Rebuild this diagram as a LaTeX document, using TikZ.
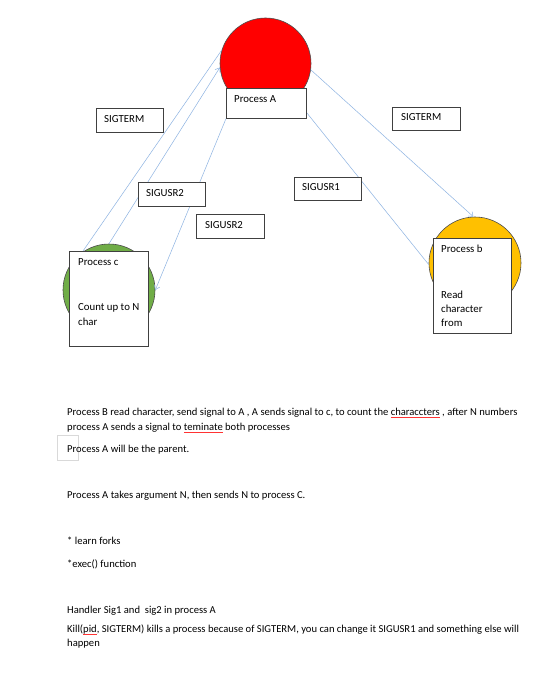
\documentclass[tikz,border=0pt]{standalone}
\usepackage{fontspec}
\setmainfont{Carlito}
\usetikzlibrary{arrows.meta}
\newsavebox\wavebox
\newcommand\redwave[1]{\sbox\wavebox{#1}\rlap{\textcolor{red!80}{\rule[-2.2pt]{\wd\wavebox}{0.4pt}}}#1}
\definecolor{lineblue}{HTML}{8DB3E2}
\definecolor{cgreen}{HTML}{70AD47}
\definecolor{cyellow}{HTML}{FFC000}
\pgfdeclarelayer{bg}
\pgfdeclarelayer{mid}
\pgfsetlayers{bg,mid,main}
\begin{document}
\begin{tikzpicture}[x=1pt,y=-1pt,
  conn/.style={draw=lineblue, line width=0.5pt},
  arr/.style={conn, -{Straight Barb[length=4pt,width=6pt]}},
  proc/.style={circle, draw=black!70, line width=0.6pt, inner sep=0pt},
  sbox/.style={rectangle, draw=black!75, fill=white, line width=0.6pt, inner sep=0pt, anchor=north west},
  lbl/.style={anchor=west, inner sep=0pt, font=\fontsize{10.8}{13}\selectfont},
  body/.style={anchor=base west, inner sep=0pt, font=\fontsize{10.6}{14}\selectfont}]
\useasboundingbox (0,0) rectangle (540,677);
\begin{pgfonlayer}{bg}
\fill[white] (0,0) rectangle (540,677);
\node[proc, fill=red, minimum size=91pt] (A) at (265.5,63.5) {};
\node[proc, fill=cgreen, minimum size=92pt] (C) at (109,290) {};
\node[proc, fill=cyellow, minimum size=92pt] (B) at (475,263) {};
\end{pgfonlayer}

% boxes
\node[sbox, minimum width=80pt, minimum height=30pt] (Abox) at (226,88) {};
\node[lbl] (Atxt) at ([shift={(8,11)}]Abox.north west) {Process A};

\node[sbox, minimum width=67pt, minimum height=24pt] (t1) at (96,108) {};
\node[lbl] (t1txt) at ([shift={(8,11.5)}]t1.north west) {SIGTERM};

\node[sbox, minimum width=67pt, minimum height=24pt] (u2a) at (138,182) {};
\node[lbl] (u2atxt) at ([shift={(8,11)}]u2a.north west) {SIGUSR2};

\node[sbox, minimum width=68pt, minimum height=24pt] (u2b) at (196,214) {};
\node[lbl] (u2btxt) at ([shift={(9,11)}]u2b.north west) {SIGUSR2};

\node[sbox, minimum width=67pt, minimum height=23pt] (u1) at (294,177) {};
\node[lbl] (u1txt) at ([shift={(8,10.5)}]u1.north west) {SIGUSR1};

\node[sbox, minimum width=68pt, minimum height=23pt] (t2) at (392,107) {};
\node[lbl] (t2txt) at ([shift={(9,10.5)}]t2.north west) {SIGTERM};

\node[sbox, minimum width=79pt, minimum height=95pt] (pc) at (69,251) {};
\node[lbl] (pc1) at ([shift={(9,11)}]pc.north west) {Process c};
\node[lbl] (pc2) at ([shift={(9,57)}]pc.north west) {Count up to N};
\node[lbl] (pc3) at ([shift={(9,71)}]pc.north west) {char};

\node[sbox, minimum width=78pt, minimum height=95pt] (pb) at (433,238) {};
\node[lbl] (pb1) at ([shift={(8,11)}]pb.north west) {Process b};
\node[lbl] (pb2) at ([shift={(8,57)}]pb.north west) {Read};
\node[lbl] (pb3) at ([shift={(8,71)}]pb.north west) {character};
\node[lbl] (pb4) at ([shift={(8,85)}]pb.north west) {from};

% connectors
\begin{pgfonlayer}{mid}
\draw[conn] ([xshift=14pt]pc.north west) -- (A.163);
\draw[arr] (C.north) -- (A.185);
\draw[arr] (Abox.south west) -- (C.east);
\draw[arr] (A.352) -- (B.92);
\draw[conn] ([yshift=6pt]Abox.south east) -- (B.182);
\end{pgfonlayer}

% notes
\draw[black!15, line width=0.5pt] (57,435) rectangle (78,460);
\node[body] (n1) at (67,415) {Process B read character, send signal to A , A sends signal to c, to count the \redwave{characcters} , after N numbers};
\node[body] (n2) at (67,430) {process A sends a signal to \redwave{teminate} both processes};
\node[body] (n3) at (67,452) {Process A will be the parent.};
\node[body] (n4) at (67,498) {Process A takes argument N, then sends N to process C.};
\node[body] (n5) at (67,544) {* learn forks};
\node[body] (n6) at (67,567) {*exec() function};
\node[body] (n7) at (67,613.5) {Handler Sig1 and\ \ sig2 in process A};
\node[body] (n8) at (67,632.5) {Kill(\redwave{pid}, SIGTERM) kills a process because of SIGTERM, you can change it SIGUSR1 and something else will};
\node[body] (n9) at (67,646) {happen};
\end{tikzpicture}
\end{document}
